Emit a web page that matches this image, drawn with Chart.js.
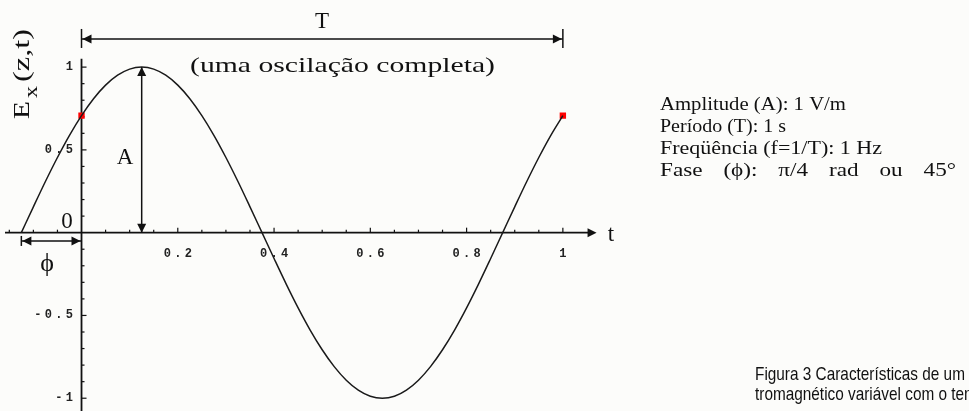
<!DOCTYPE html>
<html>
<head>
<meta charset="utf-8">
<script src="https://cdn.jsdelivr.net/npm/chart.js@4.4.0/dist/chart.umd.min.js"></script>
<style>
    html, body { margin: 0; padding: 0; background: #fcfcfa; }
    #wrap { position: relative; width: 969px; height: 411px; overflow: hidden; }
</style>
</head>
<body>
<div id="wrap"><canvas id="waveChart" width="969" height="411"></canvas></div>
<script>
// curve: t (s) and E_x (V/m)
const timeValues = [
    -0.125, -0.1, -0.075, -0.05, -0.025, 0, 0.025, 0.05, 0.075, 0.1,
    0.125, 0.15, 0.175, 0.2, 0.225, 0.25, 0.275, 0.3, 0.325, 0.35,
    0.375, 0.4, 0.425, 0.45, 0.475, 0.5, 0.525, 0.55, 0.575, 0.6,
    0.625, 0.65, 0.675, 0.7, 0.725, 0.75, 0.775, 0.8, 0.825, 0.85,
    0.875, 0.9, 0.925, 0.95, 0.975, 1
];
const fieldValues = [
    0, 0.156, 0.309, 0.454, 0.588, 0.707, 0.809, 0.891, 0.951, 0.988,
    1, 0.988, 0.951, 0.891, 0.809, 0.707, 0.588, 0.454, 0.309, 0.156,
    0, -0.156, -0.309, -0.454, -0.588, -0.707, -0.809, -0.891, -0.951, -0.988,
    -1, -0.988, -0.951, -0.891, -0.809, -0.707, -0.588, -0.454, -0.309, -0.156,
    0, 0.156, 0.309, 0.454, 0.588, 0.707
];
// red markers at the start and end of one period
const markerTimes = [0, 1];
const markerValues = [0.707, 0.707];

const xTickValues = [0.2, 0.4, 0.6, 0.8, 1];
const xTickLabels = ['0.2', '0.4', '0.6', '0.8', '1'];
const yTickValues = [1, 0.5, -0.5, -1];
const yTickLabels = ['1', '0.5', '-0.5', '-1'];

const infoLines = [
    'Amplitude (A): 1 V/m',
    'Período (T): 1 s',
    'Freqüência (f=1/T): 1 Hz',
    'Fase (\u03d5): \u03c0/4 rad ou 45\u00b0'
];
const captionLines = [
    'Figura 3 Características de um sinal ele-',
    'tromagnético variável com o tempo.'
];

const SERIF = '"Liberation Serif", "DejaVu Serif", serif';
const MONO = '"Liberation Mono", "DejaVu Sans Mono", monospace';

function arrowHead(ctx, x, y, dir) {
    // dir: 'l', 'r', 'u', 'd' -> direction the tip points
    const len = 9, half = 4.5;
    ctx.beginPath();
    if (dir === 'r') { ctx.moveTo(x, y); ctx.lineTo(x - len, y - half); ctx.lineTo(x - len, y + half); }
    if (dir === 'l') { ctx.moveTo(x, y); ctx.lineTo(x + len, y - half); ctx.lineTo(x + len, y + half); }
    if (dir === 'u') { ctx.moveTo(x, y); ctx.lineTo(x - half, y + len); ctx.lineTo(x + half, y + len); }
    if (dir === 'd') { ctx.moveTo(x, y); ctx.lineTo(x - half, y - len); ctx.lineTo(x + half, y - len); }
    ctx.closePath();
    ctx.fill();
}

function line(ctx, x1, y1, x2, y2) {
    ctx.beginPath();
    ctx.moveTo(x1, y1);
    ctx.lineTo(x2, y2);
    ctx.stroke();
}

// monospace tick text with the wide spacing of the original
function spacedText(ctx, text, x, y, align) {
    const step = 10.5;
    const total = step * text.length;
    let start = align === 'right' ? x - total : x - total / 2;
    ctx.textAlign = 'center';
    for (let i = 0; i < text.length; i++) {
        ctx.fillText(text[i], start + step * i + step / 2, y);
    }
}

function fitText(ctx, text, x, y, width, font) {
    ctx.font = font;
    const w = ctx.measureText(text).width;
    ctx.save();
    ctx.translate(x, y);
    ctx.scale(width / w, 1);
    ctx.textAlign = 'left';
    ctx.fillText(text, 0, 0);
    ctx.restore();
}

// widen glyphs a little, then make up the rest between the words
function spreadText(ctx, text, x, y, width, font) {
    ctx.font = font;
    const words = text.split(' ');
    const widths = words.map(w => ctx.measureText(w).width);
    const sum = widths.reduce((a, b) => a + b, 0);
    const space = ctx.measureText(' ').width;
    const natural = sum + space * (words.length - 1);
    const k = Math.min(width / natural, 1.22);
    const gap = (width / k - sum) / (words.length - 1);
    ctx.save();
    ctx.translate(x, y);
    ctx.scale(k, 1);
    ctx.textAlign = 'left';
    let cx = 0;
    words.forEach((w, i) => {
        ctx.fillText(w, cx, 0);
        cx += widths[i] + gap;
    });
    ctx.restore();
}

const axesPlugin = {
    id: 'axesPlugin',
    beforeDatasetsDraw(chart) {
        const ctx = chart.ctx;
        const xs = chart.scales.x, ys = chart.scales.y;
        const x0 = xs.getPixelForValue(0), y0 = ys.getPixelForValue(0);
        ctx.save();
        ctx.strokeStyle = '#111';
        ctx.fillStyle = '#111';
        ctx.lineWidth = 1.8;
        // horizontal axis with arrow
        const xEnd = xs.getPixelForValue(1.07);
        line(ctx, 5, y0, xEnd - 4, y0);
        arrowHead(ctx, xEnd, y0, 'r');
        // vertical axis
        line(ctx, x0, ys.getPixelForValue(1.05), x0, 411);
        ctx.lineWidth = 1.2;
        // small ticks on t axis every 0.05
        for (let i = -3; i <= 20; i++) {
            const v = i * 0.05;
            if (i === 0) continue;
            const px = xs.getPixelForValue(v);
            const major = i % 4 === 0;
            line(ctx, px, y0, px, y0 - (major ? 5 : 3));
        }
        // small ticks on E axis every 0.1
        for (let i = -10; i <= 10; i++) {
            if (i === 0) continue;
            const py = ys.getPixelForValue(i * 0.1);
            const major = i % 5 === 0;
            line(ctx, x0, py, x0 + (major ? 5 : 3), py);
        }
        // tick labels
        ctx.font = 'bold 12px ' + MONO;
        ctx.fillStyle = '#222';
        ctx.textBaseline = 'middle';
        xTickValues.forEach((v, i) => {
            spacedText(ctx, xTickLabels[i], xs.getPixelForValue(v), y0 + 21, 'center');
        });
        yTickValues.forEach((v, i) => {
            spacedText(ctx, yTickLabels[i], x0 - 7, ys.getPixelForValue(v), 'right');
        });
        ctx.restore();
    },
    afterDraw(chart) {
        const ctx = chart.ctx;
        const xs = chart.scales.x, ys = chart.scales.y;
        const x0 = xs.getPixelForValue(0), y0 = ys.getPixelForValue(0);
        ctx.save();
        ctx.strokeStyle = '#111';
        ctx.fillStyle = '#111';
        ctx.lineWidth = 1.5;

        // T arrow spanning one period
        const tL = xs.getPixelForValue(0), tR = xs.getPixelForValue(1);
        const tY = ys.getPixelForValue(1.17);
        line(ctx, tL, tY, tR, tY);
        line(ctx, tL, tY - 10, tL, tY + 9);
        line(ctx, tR, tY - 10, tR, tY + 9);
        arrowHead(ctx, tL + 1, tY, 'l');
        arrowHead(ctx, tR - 1, tY, 'r');

        // A arrow at the crest
        const aX = xs.getPixelForValue(0.125);
        line(ctx, aX, ys.getPixelForValue(1), aX, y0);
        arrowHead(ctx, aX, ys.getPixelForValue(1), 'u');
        arrowHead(ctx, aX, y0, 'd');

        // phase arrow
        const pL = xs.getPixelForValue(-0.125);
        const pY = ys.getPixelForValue(-0.05);
        line(ctx, pL, pY, x0, pY);
        line(ctx, pL, pY - 5, pL, pY + 5);
        arrowHead(ctx, pL + 1, pY, 'l');
        arrowHead(ctx, x0 - 1, pY, 'r');

        // serif labels
        ctx.textBaseline = 'alphabetic';
        ctx.textAlign = 'center';
        ctx.font = '23px ' + SERIF;
        ctx.fillText('T', 322, 28);
        fitText(ctx, '(uma oscilação completa)', 190, 72, 305, '21px ' + SERIF);
        ctx.textAlign = 'center';
        ctx.font = '23px ' + SERIF;
        ctx.fillText('A', 125, 164);
        ctx.fillText('0', 67, 228);
        ctx.fillText('t', 611, 241);
        ctx.font = '26px ' + SERIF;
        ctx.fillText('\u03d5', 47, 271);

        // E_x(z,t) rotated axis title
        ctx.save();
        ctx.translate(29, 119);
        ctx.rotate(-Math.PI / 2);
        ctx.textAlign = 'left';
        fitText(ctx, 'E', 0, 0, 18, '24px ' + SERIF);
        fitText(ctx, 'x', 21, 8, 12, '18px ' + SERIF);
        fitText(ctx, '(z,t)', 37, 0, 53, '24px ' + SERIF);
        ctx.restore();

        // parameter list
        const infoW = [186, 126, 222, 296];
        infoLines.forEach((txt, i) => {
            spreadText(ctx, txt, 660, 110 + i * 22, infoW[i], '19px ' + SERIF);
        });

        // caption
        ctx.font = '18.5px "Liberation Sans", Arial, sans-serif';
        ctx.textAlign = 'left';
        captionLines.forEach((txt, i) => {
            ctx.save();
            ctx.translate(755, 380 + i * 20);
            ctx.scale(0.83, 1);
            ctx.fillText(txt, 0, 0);
            ctx.restore();
        });
        ctx.restore();
    }
};

const ctx = document.getElementById('waveChart').getContext('2d');
new Chart(ctx, {
    type: 'scatter',
    data: {
        datasets: [
            {
                data: timeValues.map((t, i) => ({ x: t, y: fieldValues[i] })),
                showLine: true,
                borderColor: '#1a1a1a',
                borderWidth: 1.5,
                pointRadius: 0,
                cubicInterpolationMode: 'monotone',
                fill: false
            },
            {
                data: markerTimes.map((t, i) => ({ x: t, y: markerValues[i] })),
                showLine: false,
                pointStyle: 'rect',
                pointRadius: 4.5,
                backgroundColor: '#ff0000',
                borderColor: '#ff0000',
                borderWidth: 0
            }
        ]
    },
    options: {
        responsive: false,
        animation: false,
        layout: { padding: { left: 2, right: 358, top: 34, bottom: 2 } },
        scales: {
            x: { type: 'linear', min: -0.16, max: 1.10, display: false },
            y: { type: 'linear', min: -1.05, max: 1.2, display: false }
        },
        plugins: {
            legend: { display: false },
            tooltip: { enabled: false }
        }
    },
    plugins: [axesPlugin]
});
</script>
</body>
</html>
